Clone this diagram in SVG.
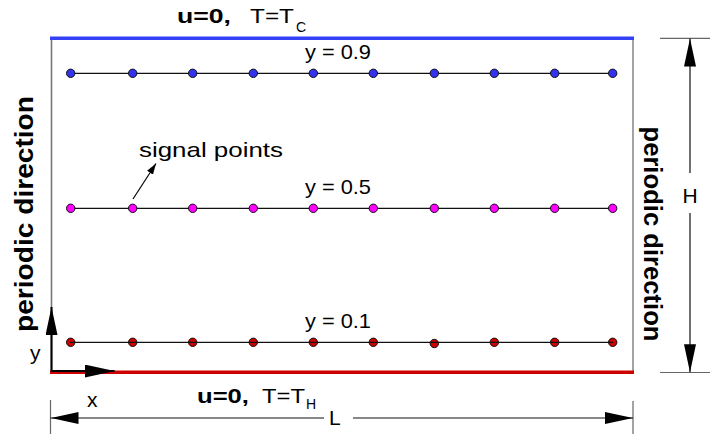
<svg xmlns="http://www.w3.org/2000/svg" width="710" height="437" viewBox="0 0 710 437">
<defs>
<style>
text{font-family:"Liberation Sans",Arial,sans-serif;fill:#000}
.b{font-weight:bold}
.row{stroke:#111;stroke-width:1.2}
.dim{stroke:#111;stroke-width:1.2;fill:none}
.ext{stroke:#666;stroke-width:1.2}
.box{stroke:#777;stroke-width:1.6}
.pb{fill:#3333ee;stroke:#111;stroke-width:1}
.pm{fill:#ff00ff;stroke:#111;stroke-width:1}
.pr{fill:#cc0000;stroke:#111;stroke-width:1}
</style>
<marker id="ah" viewBox="0 0 28 12" refX="28" refY="6" markerWidth="28" markerHeight="12" markerUnits="userSpaceOnUse" orient="auto"><path d="M0,0 L28,6 L0,12 Z" fill="#000"/></marker>
<marker id="ahs" viewBox="0 0 11 7" refX="11" refY="3.5" markerWidth="11" markerHeight="7" markerUnits="userSpaceOnUse" orient="auto"><path d="M0,0 L11,3.5 L0,7 Z" fill="#000"/></marker>
<marker id="aha" viewBox="0 0 30 13" refX="30" refY="6.5" markerWidth="30" markerHeight="13" markerUnits="userSpaceOnUse" orient="auto"><path d="M0,0 L30,6.5 L0,13 Z" fill="#000"/></marker>
</defs>
<rect width="710" height="437" fill="#fff"/>

<g id="domain">
<line class="box" x1="51.5" y1="38" x2="51.5" y2="372"/>
<line class="ext" x1="633" y1="38" x2="633" y2="372"/>
<line x1="50" y1="38.3" x2="634" y2="38.3" stroke="#3340f5" stroke-width="3.6"/>
<line x1="50" y1="372.3" x2="634" y2="372.3" stroke="#cc0000" stroke-width="3.6"/>
</g>

<g id="top-bc">
<text class="b" x="177" y="23" font-size="21" textLength="54" lengthAdjust="spacingAndGlyphs">u=0,</text>
<text x="250" y="23" font-size="21" textLength="44" lengthAdjust="spacingAndGlyphs">T=T</text>
<text x="296" y="32" font-size="14">C</text>
</g>
<g id="bottom-bc">
<text class="b" x="197" y="403" font-size="21" textLength="52" lengthAdjust="spacingAndGlyphs">u=0,</text>
<text x="262" y="403" font-size="21" textLength="43" lengthAdjust="spacingAndGlyphs">T=T</text>
<text x="306" y="409" font-size="14">H</text>
</g>

<g id="left-periodic">
<text class="b" font-size="26" text-anchor="middle" transform="translate(33,214) rotate(-90)" textLength="236" lengthAdjust="spacingAndGlyphs">periodic direction</text>
</g>
<g id="right-periodic">
<text class="b" font-size="25" text-anchor="middle" transform="translate(644,234) rotate(90)" textLength="215" lengthAdjust="spacingAndGlyphs">periodic direction</text>
</g>

<g id="row-09">
<line class="row" x1="70" y1="73.3" x2="613" y2="73.3"/>
<text x="305" y="59" font-size="21" textLength="66" lengthAdjust="spacingAndGlyphs">y = 0.9</text>
<g class="pb">
<circle cx="70.7" cy="73.3" r="4.2"/><circle cx="132.7" cy="73.3" r="4.2"/><circle cx="192.7" cy="73.3" r="4.2"/><circle cx="253.3" cy="73.3" r="4.2"/><circle cx="313.3" cy="73.3" r="4.2"/><circle cx="373.3" cy="73.3" r="4.2"/><circle cx="434.3" cy="73.3" r="4.2"/><circle cx="494.3" cy="73.3" r="4.2"/><circle cx="554.7" cy="73.3" r="4.2"/><circle cx="612.7" cy="73.3" r="4.2"/>
</g>
</g>

<g id="row-05">
<line class="row" x1="70" y1="208.3" x2="613" y2="208.3"/>
<text x="305" y="194" font-size="21" textLength="66" lengthAdjust="spacingAndGlyphs">y = 0.5</text>
<g class="pm">
<circle cx="70.7" cy="208.3" r="4.2"/><circle cx="132.7" cy="208.3" r="4.2"/><circle cx="192.7" cy="208.3" r="4.2"/><circle cx="253.3" cy="208.3" r="4.2"/><circle cx="313.3" cy="208.3" r="4.2"/><circle cx="373.3" cy="208.3" r="4.2"/><circle cx="434.3" cy="208.3" r="4.2"/><circle cx="494.3" cy="208.3" r="4.2"/><circle cx="554.7" cy="208.3" r="4.2"/><circle cx="612.7" cy="208.3" r="4.2"/>
</g>
</g>

<g id="row-01">
<text x="305" y="328" font-size="21" textLength="66" lengthAdjust="spacingAndGlyphs">y = 0.1</text>
<g class="pr">
<circle cx="70.7" cy="342.3" r="4.2"/><circle cx="132.7" cy="342.3" r="4.2"/><circle cx="192.7" cy="342.3" r="4.2"/><circle cx="253.3" cy="342.3" r="4.2"/><circle cx="313.3" cy="342.3" r="4.2"/><circle cx="373.3" cy="342.3" r="4.2"/><circle cx="434.3" cy="343.5" r="4.2"/><circle cx="494.3" cy="342.3" r="4.2"/><circle cx="554.7" cy="342.3" r="4.2"/><circle cx="612.7" cy="342.3" r="4.2"/>
</g>
<line class="row" x1="70" y1="342.3" x2="613" y2="342.3"/>
</g>

<g id="signal-label">
<text x="139" y="157" font-size="21" textLength="144" lengthAdjust="spacingAndGlyphs">signal points</text>
</g>

<g id="axes">
<text x="30" y="360" font-size="21">y</text>
<text x="87" y="407" font-size="21">x</text>
</g>

<g id="dim-labels">
<text x="690" y="203" font-size="21" text-anchor="middle">H</text>
<text x="329" y="425" font-size="21">L</text>
</g>

<g id="connectors">
<line x1="51.5" y1="372" x2="51.5" y2="307" stroke="#000" stroke-width="2" marker-end="url(#ah)"/>
<line x1="51" y1="371" x2="114.5" y2="371" stroke="#000" stroke-width="2" marker-end="url(#aha)"/>
<line x1="133" y1="199" x2="156" y2="163.5" stroke="#000" stroke-width="1.2" marker-end="url(#ahs)"/>
<line class="ext" x1="660" y1="38.3" x2="710" y2="38.3"/>
<line class="ext" x1="660" y1="372.5" x2="710" y2="372.5"/>
<line class="dim" x1="690" y1="173" x2="690" y2="38.5" marker-end="url(#ah)"/>
<line class="dim" x1="690" y1="213" x2="690" y2="372.3" marker-end="url(#ah)"/>
<line class="ext" x1="50.5" y1="400" x2="50.5" y2="434"/>
<line class="ext" x1="633" y1="401" x2="633" y2="434"/>
<line class="dim" x1="324" y1="418" x2="50.5" y2="418" marker-end="url(#ah)"/>
<line class="dim" x1="353" y1="418" x2="633" y2="418" marker-end="url(#ah)"/>
</g>
</svg>
